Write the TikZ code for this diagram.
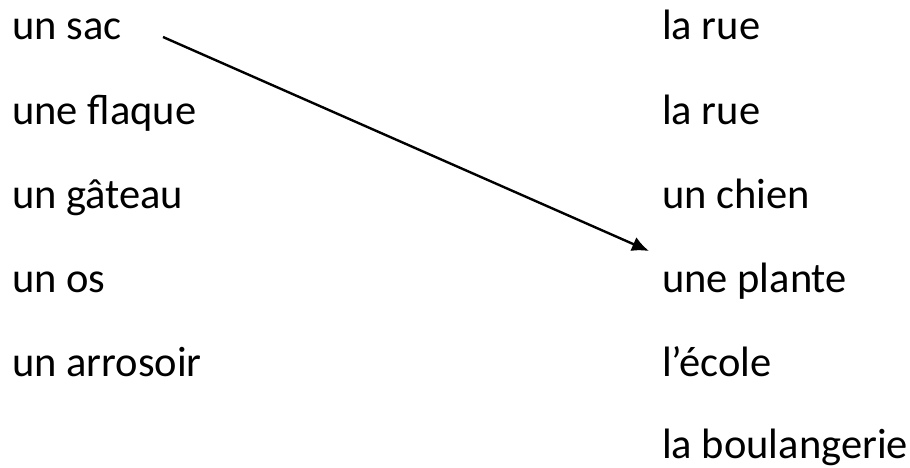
\documentclass[tikz,border=0pt]{standalone}
\usepackage{fontspec}
\setmainfont{Carlito}
\usetikzlibrary{arrows.meta}
\begin{document}
\begin{tikzpicture}[x=1pt,y=1pt,
  word/.style={anchor=base west,inner sep=0pt,font=\fontsize{42.5}{50}\selectfont},
  link/.style={line width=2.4pt,-{Latex[length=17pt,width=15pt]}}]
\useasboundingbox (0,0) rectangle (910,467);
\node[word] (l1) at (12,427) {un sac};
\node[word] (l2) at (12,343) {une flaque};
\node[word] (l3) at (12,259) {un gâteau};
\node[word] (l4) at (12,175) {un os};
\node[word] (l5) at (12,91) {un arrosoir};
\node[word] (r1) at (662,427) {la rue};
\node[word] (r2) at (662,343) {la rue};
\node[word] (r3) at (662,259) {un chien};
\node[word] (r4) at (662,175) {une plante};
\node[word] (r5) at (662,91) {l’école};
\node[word] (r6) at (662,9) {la boulangerie};
\coordinate (s) at (163,430);
\coordinate (e) at (649,216);
\draw[link] (s) -- (e);
\end{tikzpicture}
\end{document}
